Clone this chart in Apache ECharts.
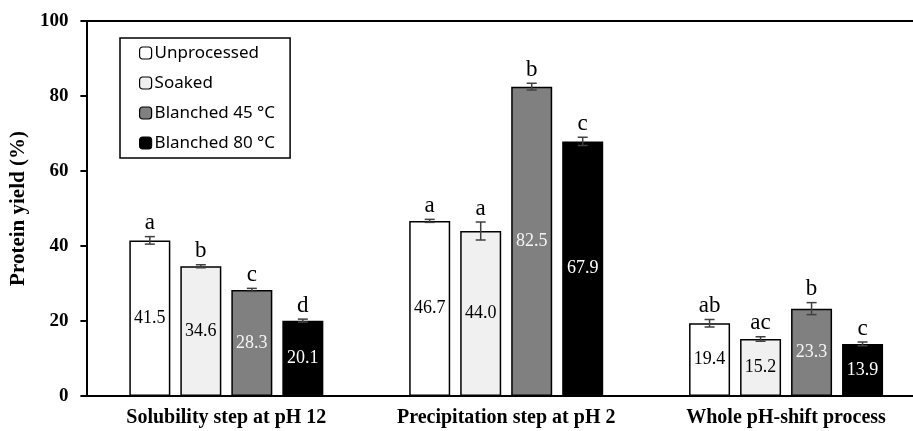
<!DOCTYPE html>
<html><head><meta charset="utf-8">
<script src="https://cdn.jsdelivr.net/npm/echarts@6/dist/echarts.min.js"></script>
<style>html,body{margin:0;padding:0;background:#fff;overflow:hidden}#c{width:940px;height:431px}</style>
</head><body><div id="c"></div>
<script>
var categories = ['Solubility step at pH 12', 'Precipitation step at pH 2', 'Whole pH-shift process'];
var seriesNames = ['Unprocessed', 'Soaked', 'Blanched 45 °C', 'Blanched 80 °C'];
var unprocessed = [41.5, 46.7, 19.4];
var soaked = [34.6, 44.0, 15.2];
var blanched45 = [28.3, 82.5, 23.3];
var blanched80 = [20.1, 67.9, 13.9];
var errUnprocessed = [1.0, 0.4, 1.0];
var errSoaked = [0.4, 2.4, 0.6];
var errBlanched45 = [0.4, 0.9, 1.6];
var errBlanched80 = [0.4, 1.1, 0.5];
var lettersUnprocessed = ['a', 'a', 'ab'];
var lettersSoaked = ['b', 'a', 'ac'];
var lettersBlanched45 = ['c', 'b', 'b'];
var lettersBlanched80 = ['d', 'c', 'c'];
var yTicks = [0, 20, 40, 60, 80, 100];

var values = [unprocessed, soaked, blanched45, blanched80];
var errs = [errUnprocessed, errSoaked, errBlanched45, errBlanched80];
var letters = [lettersUnprocessed, lettersSoaked, lettersBlanched45, lettersBlanched80];
var fills = ['#ffffff', '#f0f0f0', '#808080', '#000000'];
var labelColors = ['#000', '#000', '#f4f4f4', '#fff'];
var BW = 41, GAP = 10;
var serif = '"Liberation Serif", "Times New Roman", serif';

var series = [];
values.forEach(function (v, s) {
  series.push({
    name: seriesNames[s], type: 'bar', data: v, barWidth: BW, barGap: (GAP / BW * 100) + '%',
    itemStyle: { color: fills[s], borderColor: '#000', borderWidth: 1.5 },
    label: { show: true, position: 'inside', formatter: function (p) { return p.value.toFixed(1); },
      color: labelColors[s], fontFamily: serif, fontSize: 18 },
    z: 2
  });
});
values.forEach(function (v, s) {
  series.push({
    type: 'custom', name: 'err' + s, z: 5,
    data: v.map(function (val, i) { return [i, val, errs[s][i]]; }),
    encode: { x: 0, y: 1 },
    renderItem: function (params, api) {
      var c = api.value(0), val = api.value(1), e = api.value(2);
      var off = (s - 1.5) * (BW + GAP);
      var top = api.coord([c, val + e]);
      var bot = api.coord([c, val - e]);
      var x = top[0] + off;
      var st = { stroke: '#404040', lineWidth: 1.5 };
      return { type: 'group', children: [
        { type: 'line', shape: { x1: x, y1: top[1], x2: x, y2: bot[1] }, style: st },
        { type: 'line', shape: { x1: x - 5, y1: top[1], x2: x + 5, y2: top[1] }, style: st },
        { type: 'line', shape: { x1: x - 5, y1: bot[1], x2: x + 5, y2: bot[1] }, style: st },
        { type: 'text', style: { text: letters[s][params.dataIndex], x: x, y: top[1] - 2,
          textAlign: 'center', textVerticalAlign: 'bottom', fill: '#000',
          font: '23px ' + serif } }
      ] };
    }
  });
});

var chart = echarts.init(document.getElementById('c'));
chart.setOption({
  animation: false,
  backgroundColor: '#fff',
  grid: { left: 86, top: 21, bottom: 35, width: 840 },
  legend: {
    data: seriesNames, orient: 'vertical', left: 120, top: 38,
    itemWidth: 12, itemHeight: 12, itemGap: 12,
    borderColor: '#000', borderWidth: 1.5, padding: [6, 15, 6, 19],
    textStyle: { fontFamily: '"Noto Sans", sans-serif', fontSize: 17, color: '#000', lineHeight: 18, padding: [0, 0, 0, -2] },
    itemStyle: { borderColor: '#000', borderWidth: 1.2 }
  },
  xAxis: [{
    type: 'category', data: categories,
    axisLine: { lineStyle: { color: '#000', width: 2 } },
    axisTick: { show: false },
    axisLabel: { interval: 0, hideOverlap: false, fontFamily: serif, fontWeight: 'bold', fontSize: 20, color: '#000', margin: 12 }
  }, {
    type: 'category', data: categories, position: 'top',
    axisLine: { show: true, lineStyle: { color: '#000', width: 2 } },
    axisTick: { show: false }, axisLabel: { show: false }
  }],
  yAxis: {
    type: 'value', min: 0, max: 100, interval: 20,
    name: 'Protein yield (%)', nameLocation: 'middle', nameGap: 47,
    nameTextStyle: { fontFamily: serif, fontWeight: 'bold', fontSize: 21, color: '#000' },
    axisLine: { show: true, lineStyle: { color: '#000', width: 2 } },
    axisTick: { show: true, inside: false, length: 6, lineStyle: { color: '#000', width: 2 } },
    axisLabel: { fontFamily: serif, fontWeight: 'bold', fontSize: 19, color: '#000', margin: 18,
      formatter: function (v) { return yTicks.indexOf(v) >= 0 ? String(v) : ''; } },
    splitLine: { show: false }
  },
  series: series
});
</script></body></html>
